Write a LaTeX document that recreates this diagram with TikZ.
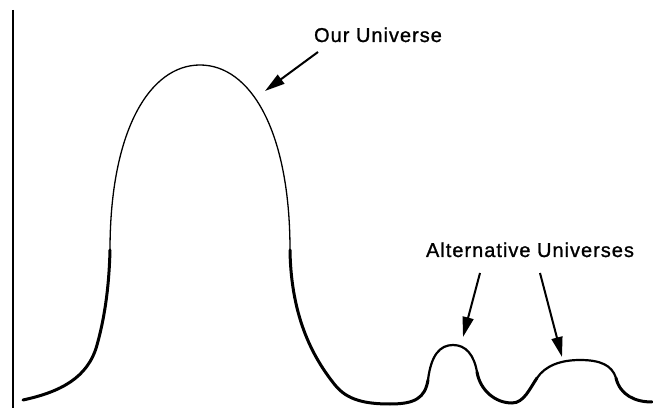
\documentclass[tikz,border=0pt]{standalone}
\usepackage{fontspec}
\newfontfamily\lblfont{Liberation Sans}[LetterSpace=5, FakeBold=1.2]
\usetikzlibrary{arrows.meta}

\begin{document}
\begin{tikzpicture}[x=1pt, y=-1pt,
    label/.style={font=\lblfont\fontsize{20}{24}\selectfont, inner sep=0pt, anchor=base},
    pointer/.style={line width=2pt, -{Triangle[length=20pt, width=11pt]}},
    thin line/.style={line width=1.3pt},
    thick line/.style={line width=3pt, line cap=round},
    mid line/.style={line width=2.2pt, line cap=round}]
    \useasboundingbox (0, 0) rectangle (653, 411);

    \draw[line width=1.6pt] (13, 10) -- (13, 408);

    % big hump
    \draw[thick line] (23,400) .. controls (60,392) and (88,378) .. (97,345)
        .. controls (104,320) and (109,290) .. (110,250);
    \draw[thin line] (110,250) .. controls (110,130) and (150,65) .. (200,65)
        .. controls (250,65) and (290,130) .. (290,250);
    \draw[thick line] (290,250) .. controls (291,320) and (315,360) .. (335,385)
        .. controls (347,400) and (365,404) .. (390,404)
        .. controls (415,404) and (425,398) .. (428,380);

    % small humps
    \draw[mid line] (428,380) .. controls (431,355) and (440,345) .. (453,345)
        .. controls (466,345) and (474,355) .. (477,372);
    \draw[thick line] (477,372) .. controls (480,390) and (495,403) .. (512,403)
        .. controls (524,403) and (530,388) .. (537,378);
    \draw[mid line] (537,378) .. controls (545,366) and (560,360) .. (580,360)
        .. controls (600,360) and (612,365) .. (616,378);
    \draw[thick line] (616,378) .. controls (620,395) and (635,402) .. (652,402);

    \node[label] (our) at (378, 42) {Our Universe};
    \node[label] (alt) at (530, 257) {Alternative Universes};

    \coordinate (our-tail) at (318, 52);
    \coordinate (our-tip) at (265, 91);
    \coordinate (alt-tail-a) at (480, 273);
    \coordinate (alt-tip-a) at (463, 337);
    \coordinate (alt-tail-b) at (540, 273);
    \coordinate (alt-tip-b) at (562, 357);

    \draw[pointer] (our-tail) -- (our-tip);
    \draw[pointer] (alt-tail-a) -- (alt-tip-a);
    \draw[pointer] (alt-tail-b) -- (alt-tip-b);

\end{tikzpicture}
\end{document}
